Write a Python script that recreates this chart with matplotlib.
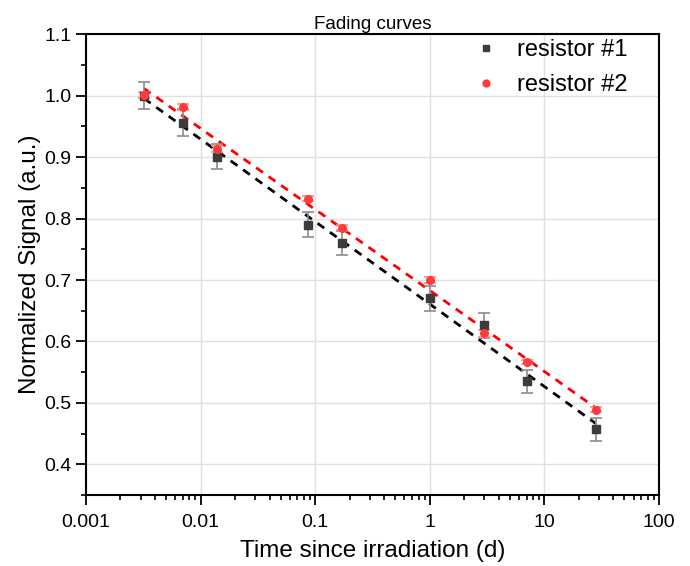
import numpy as np
import matplotlib
matplotlib.use("Agg")
import matplotlib.pyplot as plt
from matplotlib.ticker import LogLocator, MultipleLocator

plt.rcParams['font.family'] = ['Liberation Sans', 'DejaVu Sans']

# data
t_days = [0.0032, 0.0070, 0.0140, 0.086, 0.172, 1.0, 3.0, 7.0, 28.0]
sig_r1 = [1.000, 0.956, 0.901, 0.790, 0.760, 0.670, 0.626, 0.535, 0.457]
err_r1 = [0.022, 0.022, 0.020, 0.020, 0.019, 0.020, 0.020, 0.019, 0.019]
sig_r2 = [1.001, 0.982, 0.913, 0.832, 0.785, 0.700, 0.613, 0.566, 0.489]
err_r2 = [0.005, 0.005, 0.005, 0.004, 0.004, 0.005, 0.005, 0.003, 0.004]

x_ticks = [0.001, 0.01, 0.1, 1, 10, 100]
x_ticklabels = ['0.001', '0.01', '0.1', '1', '10', '100']
y_ticks = [0.4, 0.5, 0.6, 0.7, 0.8, 0.9, 1.0, 1.1]

fig = plt.figure(figsize=(6.9, 5.66), dpi=100)
ax = fig.add_axes([0.1246, 0.1254, 0.955 - 0.1246, 0.9394 - 0.1254])

t = np.array(t_days)
logt = np.log10(t)
tt = np.logspace(logt.min(), logt.max(), 100)

# log-linear fits
p1 = np.polyfit(logt, sig_r1, 1)
p2 = np.polyfit(logt, sig_r2, 1)
ax.plot(tt, np.polyval(p1, np.log10(tt)), color='black', ls=(0, (3, 2.5)), lw=2, zorder=3)
ax.plot(tt, np.polyval(p2, np.log10(tt)), color='#ff0000', ls=(0, (3, 2.5)), lw=2, zorder=3)

ax.errorbar(t, sig_r1, yerr=err_r1, fmt='none', ecolor='#8c8c8c',
            elinewidth=1.2, capsize=4.5, capthick=1.2, zorder=4)
ax.errorbar(t, sig_r2, yerr=err_r2, fmt='none', ecolor='#ff8a8a',
            elinewidth=1.2, capsize=4.5, capthick=1.2, zorder=5)
ax.plot(t, sig_r1, 's', color='#3c3c3c', ms=5.5, label='resistor #1', zorder=6)
ax.plot(t, sig_r2, 'o', color='#ff3b3b', ms=5.5, label='resistor #2', zorder=7)

ax.set_xscale('log')
ax.set_xlim(0.001, 100)
ax.set_ylim(0.35, 1.1)
ax.set_xticks(x_ticks)
ax.set_xticklabels(x_ticklabels)
ax.xaxis.set_minor_locator(LogLocator(base=10, subs=np.arange(2, 10)))
ax.xaxis.set_minor_formatter(plt.NullFormatter())
ax.set_yticks(y_ticks)
ax.set_yticklabels([f'{v:.1f}' for v in y_ticks])
ax.yaxis.set_minor_locator(MultipleLocator(0.05))

ax.tick_params(which='major', direction='out', length=7, width=1.3, labelsize=14,
               top=False, right=False, color='black', labelcolor='black')
ax.tick_params(axis='x', which='major', pad=7)
ax.tick_params(which='minor', direction='out', length=3.5, width=1.2, top=False, right=False)
for s in ax.spines.values():
    s.set_linewidth(1.5)

ax.grid(True, which='major', color='#e0e0e0', lw=1)
ax.set_axisbelow(True)

ax.set_title('Fading curves', fontsize=13.5, pad=4)
ax.set_xlabel('Time since irradiation (d)', fontsize=17.5, labelpad=6)
ax.set_ylabel('Normalized Signal (a.u.)', fontsize=17.5, labelpad=2)

leg = ax.legend(loc='upper right', bbox_to_anchor=(0.97, 1.02), frameon=False,
                fontsize=17, handletextpad=0.9, labelspacing=0.55,
                handlelength=0.8, borderaxespad=0.2, markerscale=0.9)

fig.savefig('out.png', dpi=100)
